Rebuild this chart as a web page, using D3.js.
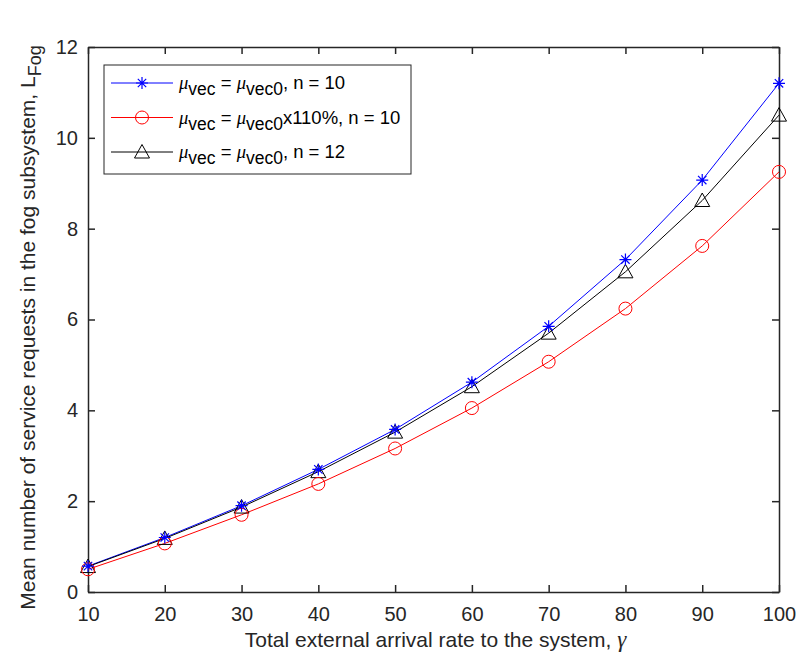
<!DOCTYPE html>
<html>
<head>
<meta charset="utf-8">
<script src="https://cdn.jsdelivr.net/npm/d3@7"></script>
<style>
  body { margin: 0; background: #fff; }
  text { font-family: "Liberation Sans", Arial, sans-serif; }
</style>
</head>
<body>
<div id="chart"></div>
<script>
const gammaValues = [10, 20, 30, 40, 50, 60, 70, 80, 90, 100]
const blueSeries = [0.57, 1.2, 1.9, 2.7, 3.58, 4.62, 5.85, 7.32, 9.07, 11.2]
const redSeries = [0.5, 1.07, 1.7, 2.38, 3.16, 4.05, 5.07, 6.24, 7.62, 9.25]
const blackSeries = [0.56, 1.18, 1.87, 2.65, 3.52, 4.52, 5.7, 7.05, 8.62, 10.5]
const xTicks = [10, 20, 30, 40, 50, 60, 70, 80, 90, 100]
const yTicks = [0, 2, 4, 6, 8, 10, 12]

const margin = { top: 47, right: 17, bottom: 72, left: 88 }
const width = 796 - margin.left - margin.right
const height = 664 - margin.top - margin.bottom

const svg = d3.select("#chart").append("svg")
    .attr("width", 796).attr("height", 664)
const g = svg.append("g").attr("transform", `translate(${margin.left},${margin.top})`)

const x = d3.scaleLinear().domain([10, 100]).range([0, width])
const y = d3.scaleLinear().domain([0, 12]).range([height, 0])

const series = [
    { values: blueSeries, color: "#0000ff", marker: "star", sub: ", n = 10" },
    { values: redSeries, color: "#ff0000", marker: "circle", sub: "x110%, n = 10" },
    { values: blackSeries, color: "#000000", marker: "triangle", sub: ", n = 12" }
]

// axes with inward ticks on all four sides
const tickLen = 7
g.append("g").attr("transform", `translate(0,${height})`)
    .call(d3.axisBottom(x).tickValues(xTicks).tickSizeInner(-tickLen).tickSizeOuter(0).tickPadding(15))
g.append("g")
    .call(d3.axisTop(x).tickValues(xTicks).tickSizeInner(-tickLen).tickSizeOuter(0).tickFormat(""))
g.append("g")
    .call(d3.axisLeft(y).tickValues(yTicks).tickSizeInner(-tickLen).tickSizeOuter(0).tickPadding(10))
g.append("g").attr("transform", `translate(${width},0)`)
    .call(d3.axisRight(y).tickValues(yTicks).tickSizeInner(-tickLen).tickSizeOuter(0).tickFormat(""))

g.selectAll(".domain").attr("stroke", "#262626").attr("stroke-width", 1.5)
g.selectAll(".tick line").attr("stroke", "#262626").attr("stroke-width", 1.5)
g.selectAll(".tick text").attr("font-size", 20).attr("fill", "#262626")
    .attr("font-family", "'Liberation Sans', Arial, sans-serif")

const line = d3.line().x((d, i) => x(gammaValues[i])).y(d => y(d))

function drawMarker(sel, type, color) {
    if (type === "star") {
        const r = 6
        sel.append("path")
            .attr("d", `M${-r},0H${r}M0,${-r}V${r}M${-r * 0.7},${-r * 0.7}L${r * 0.7},${r * 0.7}M${-r * 0.7},${r * 0.7}L${r * 0.7},${-r * 0.7}`)
            .attr("stroke", color).attr("stroke-width", 1.2).attr("fill", "none")
    } else if (type === "circle") {
        sel.append("circle").attr("r", 6.5)
            .attr("stroke", color).attr("stroke-width", 1).attr("fill", "none")
    } else {
        sel.append("path").attr("d", "M0,-7.5L7.5,6L-7.5,6Z")
            .attr("stroke", color).attr("stroke-width", 1).attr("fill", "none")
    }
}

series.forEach(s => {
    g.append("path").datum(s.values)
        .attr("d", line).attr("fill", "none")
        .attr("stroke", s.color).attr("stroke-width", 1)
})
series.slice().reverse().forEach(s => {
    s.values.forEach((v, i) => {
        const m = g.append("g").attr("transform", `translate(${x(gammaValues[i])},${y(v)})`)
        drawMarker(m, s.marker, s.color)
    })
})

// legend
const legend = g.append("g").attr("transform", "translate(16,18)")
legend.append("rect").attr("width", 307).attr("height", 109)
    .attr("fill", "#fff").attr("stroke", "#262626").attr("stroke-width", 1)
series.forEach((s, i) => {
    const ly = 18 + i * 34.5
    const row = legend.append("g").attr("transform", `translate(0,${ly})`)
    row.append("line").attr("x1", 7).attr("x2", 69).attr("stroke", s.color).attr("stroke-width", 1)
    drawMarker(row.append("g").attr("transform", "translate(38,0)"), s.marker, s.color)
    const t = row.append("text").attr("x", 75).attr("y", 6).attr("font-size", 18.5).attr("fill", "#000")
    t.append("tspan").attr("font-style", "italic").attr("font-family", "'Liberation Serif', serif").text("\u03bc")
    t.append("tspan").attr("dy", 6).attr("font-size", 17.5).text("vec")
    t.append("tspan").attr("dy", -6).text(" = ")
    t.append("tspan").attr("font-style", "italic").attr("font-family", "'Liberation Serif', serif").text("\u03bc")
    t.append("tspan").attr("dy", 6).attr("font-size", 17.5).text("vec0")
    t.append("tspan").attr("dy", -6).text(s.sub)
})

// axis labels
const xl = svg.append("text").attr("x", margin.left + width / 2 + 2).attr("y", 647)
    .attr("text-anchor", "middle").attr("font-size", 21).attr("fill", "#262626")
xl.append("tspan").text("Total external arrival rate to the system, ")
xl.append("tspan").attr("font-style", "italic").attr("font-family", "'Liberation Serif', serif").attr("font-size", 23).text("\u03b3")

const yl = svg.append("text")
    .attr("transform", `translate(35,${margin.top + height / 2 + 8}) rotate(-90)`)
    .attr("text-anchor", "middle").attr("font-size", 21).attr("fill", "#262626")
yl.append("tspan").text("Mean number of service requests in the fog subsystem, L")
yl.append("tspan").attr("dy", 6).attr("font-size", 18).text("Fog")
</script>
</body>
</html>
